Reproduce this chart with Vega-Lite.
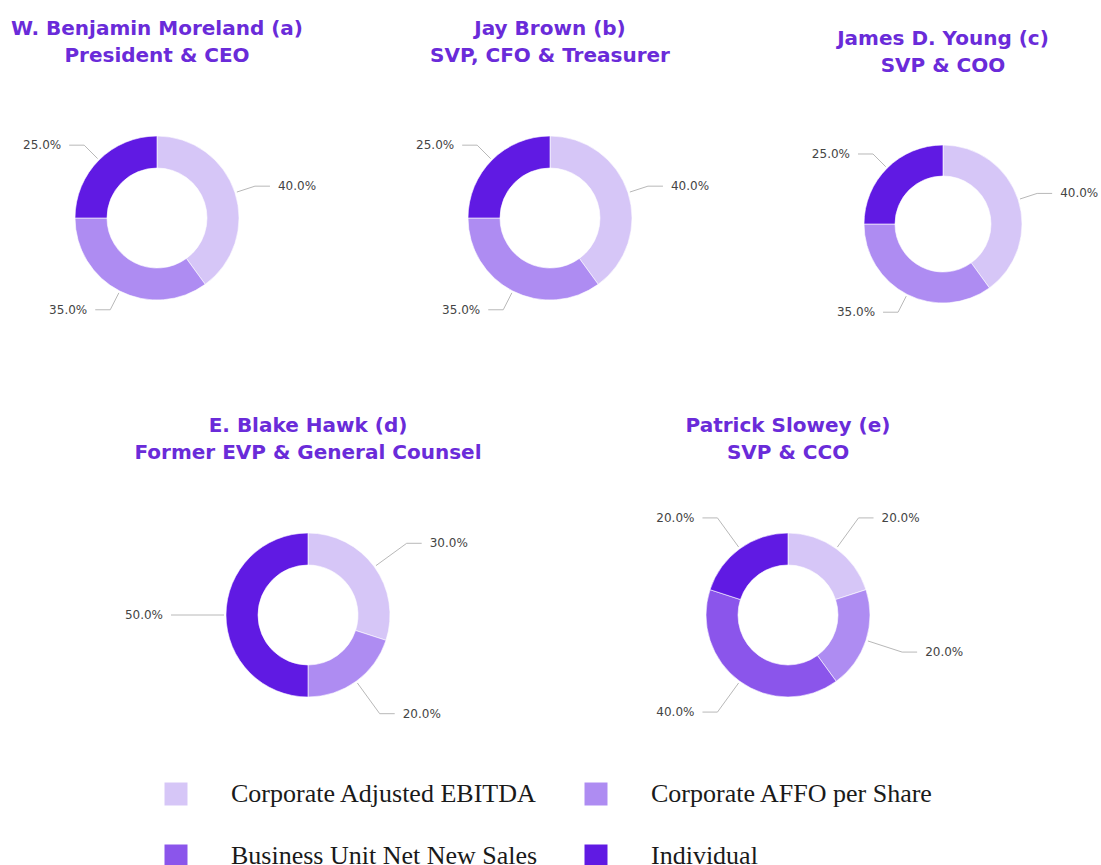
{
  "$schema": "https://vega.github.io/schema/vega-lite/v6.json",
  "padding": {"left": 10, "top": 19, "right": 0, "bottom": 0},
  "bounds": "flush",
  "background": "white",
  "data": {"values": [
    {"person": "a", "metric": "Corporate Adjusted EBITDA", "value": 40},
    {"person": "a", "metric": "Corporate AFFO per Share", "value": 35},
    {"person": "a", "metric": "Individual", "value": 25},
    {"person": "b", "metric": "Corporate Adjusted EBITDA", "value": 40},
    {"person": "b", "metric": "Corporate AFFO per Share", "value": 35},
    {"person": "b", "metric": "Individual", "value": 25},
    {"person": "c", "metric": "Corporate Adjusted EBITDA", "value": 40},
    {"person": "c", "metric": "Corporate AFFO per Share", "value": 35},
    {"person": "c", "metric": "Individual", "value": 25},
    {"person": "d", "metric": "Corporate Adjusted EBITDA", "value": 30},
    {"person": "d", "metric": "Corporate AFFO per Share", "value": 20},
    {"person": "d", "metric": "Individual", "value": 50},
    {"person": "e", "metric": "Corporate Adjusted EBITDA", "value": 20},
    {"person": "e", "metric": "Corporate AFFO per Share", "value": 20},
    {"person": "e", "metric": "Business Unit Net New Sales", "value": 40},
    {"person": "e", "metric": "Individual", "value": 20}
  ]},
  "spacing": 397,
  "vconcat": [
    {
      "spacing": 153,
      "bounds": "flush",
      "hconcat": [
        {
          "width": 240, "height": 240,
          "title": {"text": ["W. Benjamin Moreland (a)", "President & CEO"], "offset": 32},
          "transform": [
            {"filter": "datum.person === 'a'"},
            {"calculate": "indexof(['Corporate Adjusted EBITDA','Corporate AFFO per Share','Business Unit Net New Sales','Individual'], datum.metric)", "as": "idx"},
            {"window": [{"op": "sum", "field": "value", "as": "cum"}], "sort": [{"field": "idx"}], "frame": [null, 0]},
            {"calculate": "(datum.cum - datum.value/2)/100*2*PI", "as": "mid"},
            {"calculate": "sin(datum.mid) >= 0 ? 1 : -1", "as": "side"},
            {"calculate": "84*sin(datum.mid)", "as": "ax"},
            {"calculate": "84*cos(datum.mid)", "as": "ay"},
            {"calculate": "103*sin(datum.mid)", "as": "bx"},
            {"calculate": "103*cos(datum.mid)", "as": "by"},
            {"calculate": "datum.bx + 15*datum.side", "as": "cx"},
            {"calculate": "datum.cx + 8*datum.side", "as": "tx"},
            {"calculate": "format(datum.value, '.1f') + '%'", "as": "label"}
          ],
          "layer": [
            {
              "mark": {"type": "arc", "outerRadius": 82, "innerRadius": 50, "stroke": "white", "strokeWidth": 0.6},
              "encoding": {
                "x": {"datum": 0, "type": "quantitative", "scale": {"domain": [-120, 120], "nice": false, "zero": false}, "axis": null},
                "y": {"datum": 0, "type": "quantitative", "scale": {"domain": [-120, 120], "nice": false, "zero": false}, "axis": null},
                "theta": {"field": "value", "type": "quantitative", "stack": true},
                "order": {"field": "idx", "type": "quantitative"},
                "color": {"field": "metric", "type": "nominal",
                  "scale": {"domain": ["Corporate Adjusted EBITDA", "Corporate AFFO per Share", "Business Unit Net New Sales", "Individual"], "range": ["#d6c6f7", "#ae8cf2", "#8b55eb", "#601ae3"]},
                  "legend": {"title": null, "orient": "none", "direction": "horizontal", "legendX": 126, "legendY": 683}}
              }
            },
            {
              "mark": {"type": "rule", "color": "#b8b8b8", "strokeWidth": 1},
              "encoding": {"x": {"field": "ax", "type": "quantitative"}, "y": {"field": "ay", "type": "quantitative"}, "x2": {"field": "bx"}, "y2": {"field": "by"}}
            },
            {
              "mark": {"type": "rule", "color": "#b8b8b8", "strokeWidth": 1},
              "encoding": {"x": {"field": "bx", "type": "quantitative"}, "y": {"field": "by", "type": "quantitative"}, "x2": {"field": "cx"}}
            },
            {
              "transform": [{"filter": "datum.side > 0"}],
              "mark": {"type": "text", "align": "left", "baseline": "middle", "font": "DejaVu Sans", "fontSize": 12, "color": "#444"},
              "encoding": {"x": {"field": "tx", "type": "quantitative"}, "y": {"field": "by", "type": "quantitative"}, "text": {"field": "label"}}
            },
            {
              "transform": [{"filter": "datum.side < 0"}],
              "mark": {"type": "text", "align": "right", "baseline": "middle", "font": "DejaVu Sans", "fontSize": 12, "color": "#444"},
              "encoding": {"x": {"field": "tx", "type": "quantitative"}, "y": {"field": "by", "type": "quantitative"}, "text": {"field": "label"}}
            }
          ]
        },
        {
          "width": 240, "height": 240,
          "title": {"text": ["Jay Brown (b)", "SVP, CFO & Treasurer"], "offset": 32},
          "transform": [
            {"filter": "datum.person === 'b'"},
            {"calculate": "indexof(['Corporate Adjusted EBITDA','Corporate AFFO per Share','Business Unit Net New Sales','Individual'], datum.metric)", "as": "idx"},
            {"window": [{"op": "sum", "field": "value", "as": "cum"}], "sort": [{"field": "idx"}], "frame": [null, 0]},
            {"calculate": "(datum.cum - datum.value/2)/100*2*PI", "as": "mid"},
            {"calculate": "sin(datum.mid) >= 0 ? 1 : -1", "as": "side"},
            {"calculate": "84*sin(datum.mid)", "as": "ax"},
            {"calculate": "84*cos(datum.mid)", "as": "ay"},
            {"calculate": "103*sin(datum.mid)", "as": "bx"},
            {"calculate": "103*cos(datum.mid)", "as": "by"},
            {"calculate": "datum.bx + 15*datum.side", "as": "cx"},
            {"calculate": "datum.cx + 8*datum.side", "as": "tx"},
            {"calculate": "format(datum.value, '.1f') + '%'", "as": "label"}
          ],
          "layer": [
            {
              "mark": {"type": "arc", "outerRadius": 82, "innerRadius": 50, "stroke": "white", "strokeWidth": 0.6},
              "encoding": {
                "x": {"datum": 0, "type": "quantitative", "scale": {"domain": [-120, 120], "nice": false, "zero": false}, "axis": null},
                "y": {"datum": 0, "type": "quantitative", "scale": {"domain": [-120, 120], "nice": false, "zero": false}, "axis": null},
                "theta": {"field": "value", "type": "quantitative", "stack": true},
                "order": {"field": "idx", "type": "quantitative"},
                "color": {"field": "metric", "type": "nominal",
                  "scale": {"domain": ["Corporate Adjusted EBITDA", "Corporate AFFO per Share", "Business Unit Net New Sales", "Individual"], "range": ["#d6c6f7", "#ae8cf2", "#8b55eb", "#601ae3"]},
                  "legend": {"title": null, "orient": "none", "direction": "horizontal", "legendX": 126, "legendY": 683}}
              }
            },
            {
              "mark": {"type": "rule", "color": "#b8b8b8", "strokeWidth": 1},
              "encoding": {"x": {"field": "ax", "type": "quantitative"}, "y": {"field": "ay", "type": "quantitative"}, "x2": {"field": "bx"}, "y2": {"field": "by"}}
            },
            {
              "mark": {"type": "rule", "color": "#b8b8b8", "strokeWidth": 1},
              "encoding": {"x": {"field": "bx", "type": "quantitative"}, "y": {"field": "by", "type": "quantitative"}, "x2": {"field": "cx"}}
            },
            {
              "transform": [{"filter": "datum.side > 0"}],
              "mark": {"type": "text", "align": "left", "baseline": "middle", "font": "DejaVu Sans", "fontSize": 12, "color": "#444"},
              "encoding": {"x": {"field": "tx", "type": "quantitative"}, "y": {"field": "by", "type": "quantitative"}, "text": {"field": "label"}}
            },
            {
              "transform": [{"filter": "datum.side < 0"}],
              "mark": {"type": "text", "align": "right", "baseline": "middle", "font": "DejaVu Sans", "fontSize": 12, "color": "#444"},
              "encoding": {"x": {"field": "tx", "type": "quantitative"}, "y": {"field": "by", "type": "quantitative"}, "text": {"field": "label"}}
            }
          ]
        },
        {
          "width": 240, "height": 240,
          "title": {"text": ["James D. Young (c)", "SVP & COO"], "offset": 22},
          "transform": [
            {"filter": "datum.person === 'c'"},
            {"calculate": "indexof(['Corporate Adjusted EBITDA','Corporate AFFO per Share','Business Unit Net New Sales','Individual'], datum.metric)", "as": "idx"},
            {"window": [{"op": "sum", "field": "value", "as": "cum"}], "sort": [{"field": "idx"}], "frame": [null, 0]},
            {"calculate": "(datum.cum - datum.value/2)/100*2*PI", "as": "mid"},
            {"calculate": "sin(datum.mid) >= 0 ? 1 : -1", "as": "side"},
            {"calculate": "81*sin(datum.mid)", "as": "ax"},
            {"calculate": "81*cos(datum.mid)", "as": "ay"},
            {"calculate": "99*sin(datum.mid)", "as": "bx"},
            {"calculate": "99*cos(datum.mid)", "as": "by"},
            {"calculate": "datum.bx + 15*datum.side", "as": "cx"},
            {"calculate": "datum.cx + 8*datum.side", "as": "tx"},
            {"calculate": "format(datum.value, '.1f') + '%'", "as": "label"}
          ],
          "layer": [
            {
              "mark": {"type": "arc", "outerRadius": 79, "innerRadius": 48, "stroke": "white", "strokeWidth": 0.6},
              "encoding": {
                "x": {"datum": 0, "type": "quantitative", "scale": {"domain": [-120, 120], "nice": false, "zero": false}, "axis": null},
                "y": {"datum": 0, "type": "quantitative", "scale": {"domain": [-114, 126], "nice": false, "zero": false}, "axis": null},
                "theta": {"field": "value", "type": "quantitative", "stack": true},
                "order": {"field": "idx", "type": "quantitative"},
                "color": {"field": "metric", "type": "nominal",
                  "scale": {"domain": ["Corporate Adjusted EBITDA", "Corporate AFFO per Share", "Business Unit Net New Sales", "Individual"], "range": ["#d6c6f7", "#ae8cf2", "#8b55eb", "#601ae3"]},
                  "legend": {"title": null, "orient": "none", "direction": "horizontal", "legendX": 126, "legendY": 683}}
              }
            },
            {
              "mark": {"type": "rule", "color": "#b8b8b8", "strokeWidth": 1},
              "encoding": {"x": {"field": "ax", "type": "quantitative"}, "y": {"field": "ay", "type": "quantitative"}, "x2": {"field": "bx"}, "y2": {"field": "by"}}
            },
            {
              "mark": {"type": "rule", "color": "#b8b8b8", "strokeWidth": 1},
              "encoding": {"x": {"field": "bx", "type": "quantitative"}, "y": {"field": "by", "type": "quantitative"}, "x2": {"field": "cx"}}
            },
            {
              "transform": [{"filter": "datum.side > 0"}],
              "mark": {"type": "text", "align": "left", "baseline": "middle", "font": "DejaVu Sans", "fontSize": 12, "color": "#444"},
              "encoding": {"x": {"field": "tx", "type": "quantitative"}, "y": {"field": "by", "type": "quantitative"}, "text": {"field": "label"}}
            },
            {
              "transform": [{"filter": "datum.side < 0"}],
              "mark": {"type": "text", "align": "right", "baseline": "middle", "font": "DejaVu Sans", "fontSize": 12, "color": "#444"},
              "encoding": {"x": {"field": "tx", "type": "quantitative"}, "y": {"field": "by", "type": "quantitative"}, "text": {"field": "label"}}
            }
          ]
        }
      ]
    },
    {
      "spacing": 89,
      "bounds": "flush",
      "hconcat": [
        {
          "width": 542, "height": 240,
          "title": {"text": ["E. Blake Hawk (d)", "Former EVP & General Counsel"], "offset": 32},
          "transform": [
            {"filter": "datum.person === 'd'"},
            {"calculate": "indexof(['Corporate Adjusted EBITDA','Corporate AFFO per Share','Business Unit Net New Sales','Individual'], datum.metric)", "as": "idx"},
            {"window": [{"op": "sum", "field": "value", "as": "cum"}], "sort": [{"field": "idx"}], "frame": [null, 0]},
            {"calculate": "(datum.cum - datum.value/2)/100*2*PI", "as": "mid"},
            {"calculate": "sin(datum.mid) >= 0 ? 1 : -1", "as": "side"},
            {"calculate": "84*sin(datum.mid)", "as": "ax"},
            {"calculate": "84*cos(datum.mid)", "as": "ay"},
            {"calculate": "122*sin(datum.mid)", "as": "bx"},
            {"calculate": "122*cos(datum.mid)", "as": "by"},
            {"calculate": "datum.bx + 15*datum.side", "as": "cx"},
            {"calculate": "datum.cx + 8*datum.side", "as": "tx"},
            {"calculate": "format(datum.value, '.1f') + '%'", "as": "label"}
          ],
          "layer": [
            {
              "mark": {"type": "arc", "outerRadius": 82, "innerRadius": 50, "stroke": "white", "strokeWidth": 0.6},
              "encoding": {
                "x": {"datum": 0, "type": "quantitative", "scale": {"domain": [-271, 271], "nice": false, "zero": false}, "axis": null},
                "y": {"datum": 0, "type": "quantitative", "scale": {"domain": [-120, 120], "nice": false, "zero": false}, "axis": null},
                "theta": {"field": "value", "type": "quantitative", "stack": true},
                "order": {"field": "idx", "type": "quantitative"},
                "color": {"field": "metric", "type": "nominal",
                  "scale": {"domain": ["Corporate Adjusted EBITDA", "Corporate AFFO per Share", "Business Unit Net New Sales", "Individual"], "range": ["#d6c6f7", "#ae8cf2", "#8b55eb", "#601ae3"]},
                  "legend": {"title": null, "orient": "none", "direction": "horizontal", "legendX": 126, "legendY": 683}}
              }
            },
            {
              "mark": {"type": "rule", "color": "#b8b8b8", "strokeWidth": 1},
              "encoding": {"x": {"field": "ax", "type": "quantitative"}, "y": {"field": "ay", "type": "quantitative"}, "x2": {"field": "bx"}, "y2": {"field": "by"}}
            },
            {
              "mark": {"type": "rule", "color": "#b8b8b8", "strokeWidth": 1},
              "encoding": {"x": {"field": "bx", "type": "quantitative"}, "y": {"field": "by", "type": "quantitative"}, "x2": {"field": "cx"}}
            },
            {
              "transform": [{"filter": "datum.side > 0"}],
              "mark": {"type": "text", "align": "left", "baseline": "middle", "font": "DejaVu Sans", "fontSize": 12, "color": "#444"},
              "encoding": {"x": {"field": "tx", "type": "quantitative"}, "y": {"field": "by", "type": "quantitative"}, "text": {"field": "label"}}
            },
            {
              "transform": [{"filter": "datum.side < 0"}],
              "mark": {"type": "text", "align": "right", "baseline": "middle", "font": "DejaVu Sans", "fontSize": 12, "color": "#444"},
              "encoding": {"x": {"field": "tx", "type": "quantitative"}, "y": {"field": "by", "type": "quantitative"}, "text": {"field": "label"}}
            }
          ]
        },
        {
          "width": 240, "height": 240,
          "title": {"text": ["Patrick Slowey (e)", "SVP & CCO"], "offset": 32},
          "transform": [
            {"filter": "datum.person === 'e'"},
            {"calculate": "indexof(['Corporate Adjusted EBITDA','Corporate AFFO per Share','Business Unit Net New Sales','Individual'], datum.metric)", "as": "idx"},
            {"window": [{"op": "sum", "field": "value", "as": "cum"}], "sort": [{"field": "idx"}], "frame": [null, 0]},
            {"calculate": "(datum.cum - datum.value/2)/100*2*PI", "as": "mid"},
            {"calculate": "sin(datum.mid) >= 0 ? 1 : -1", "as": "side"},
            {"calculate": "84*sin(datum.mid)", "as": "ax"},
            {"calculate": "84*cos(datum.mid)", "as": "ay"},
            {"calculate": "120*sin(datum.mid)", "as": "bx"},
            {"calculate": "120*cos(datum.mid)", "as": "by"},
            {"calculate": "datum.bx + 15*datum.side", "as": "cx"},
            {"calculate": "datum.cx + 8*datum.side", "as": "tx"},
            {"calculate": "format(datum.value, '.1f') + '%'", "as": "label"}
          ],
          "layer": [
            {
              "mark": {"type": "arc", "outerRadius": 82, "innerRadius": 50, "stroke": "white", "strokeWidth": 0.6},
              "encoding": {
                "x": {"datum": 0, "type": "quantitative", "scale": {"domain": [-120, 120], "nice": false, "zero": false}, "axis": null},
                "y": {"datum": 0, "type": "quantitative", "scale": {"domain": [-120, 120], "nice": false, "zero": false}, "axis": null},
                "theta": {"field": "value", "type": "quantitative", "stack": true},
                "order": {"field": "idx", "type": "quantitative"},
                "color": {"field": "metric", "type": "nominal",
                  "scale": {"domain": ["Corporate Adjusted EBITDA", "Corporate AFFO per Share", "Business Unit Net New Sales", "Individual"], "range": ["#d6c6f7", "#ae8cf2", "#8b55eb", "#601ae3"]},
                  "legend": {"title": null, "orient": "none", "direction": "horizontal", "legendX": 126, "legendY": 683}}
              }
            },
            {
              "mark": {"type": "rule", "color": "#b8b8b8", "strokeWidth": 1},
              "encoding": {"x": {"field": "ax", "type": "quantitative"}, "y": {"field": "ay", "type": "quantitative"}, "x2": {"field": "bx"}, "y2": {"field": "by"}}
            },
            {
              "mark": {"type": "rule", "color": "#b8b8b8", "strokeWidth": 1},
              "encoding": {"x": {"field": "bx", "type": "quantitative"}, "y": {"field": "by", "type": "quantitative"}, "x2": {"field": "cx"}}
            },
            {
              "transform": [{"filter": "datum.side > 0"}],
              "mark": {"type": "text", "align": "left", "baseline": "middle", "font": "DejaVu Sans", "fontSize": 12, "color": "#444"},
              "encoding": {"x": {"field": "tx", "type": "quantitative"}, "y": {"field": "by", "type": "quantitative"}, "text": {"field": "label"}}
            },
            {
              "transform": [{"filter": "datum.side < 0"}],
              "mark": {"type": "text", "align": "right", "baseline": "middle", "font": "DejaVu Sans", "fontSize": 12, "color": "#444"},
              "encoding": {"x": {"field": "tx", "type": "quantitative"}, "y": {"field": "by", "type": "quantitative"}, "text": {"field": "label"}}
            }
          ]
        }
      ]
    }
  ],
  "config": {
    "view": {"stroke": null},
    "title": {"font": "DejaVu Sans", "fontSize": 20, "fontWeight": "bold", "color": "#6a2bd9", "lineHeight": 27, "anchor": "middle"},
    "legend": {
      "labelFont": "Liberation Serif", "labelFontSize": 26, "labelColor": "#1a1a1a", "labelLimit": 0,
      "symbolType": "square", "symbolSize": 529, "symbolStrokeWidth": 0, "symbolOpacity": 1,
      "columns": 2, "columnPadding": 45, "rowPadding": 36, "labelOffset": 42
    }
  }
}
